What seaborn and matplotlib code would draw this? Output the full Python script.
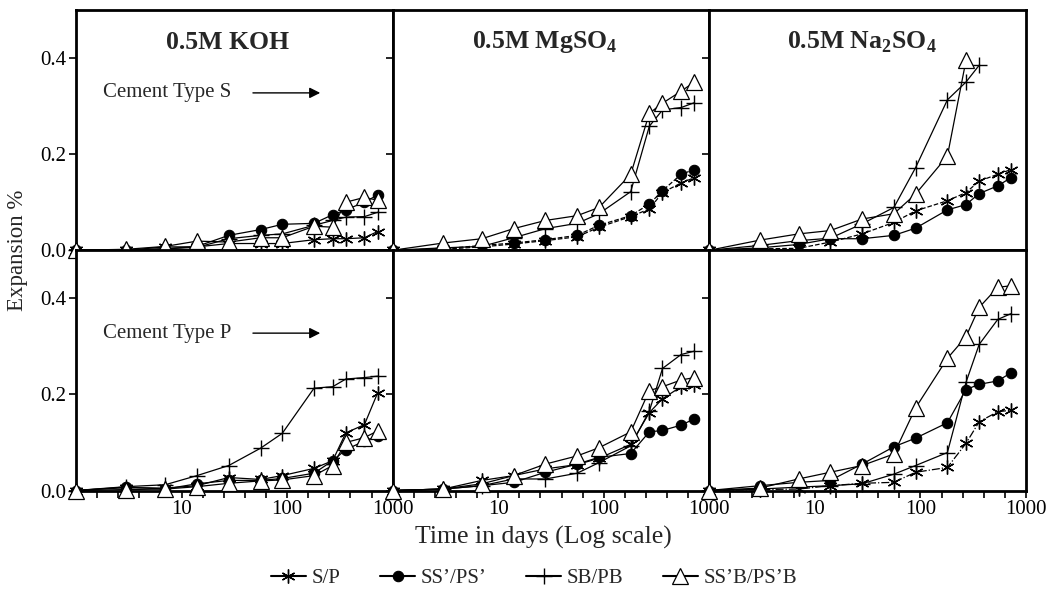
import numpy as np
import pandas as pd
import matplotlib
matplotlib.use("Agg")
import matplotlib.pyplot as plt
import seaborn as sns
from matplotlib.ticker import FixedLocator, FixedFormatter, NullLocator
from matplotlib.lines import Line2D

# ---------------- data ----------------
days = [1, 3, 7, 14, 28, 56, 90, 180, 270, 360, 540, 720]
series_names = ["S/P", "SS\u2019/PS\u2019", "SB/PB", "SS\u2019B/PS\u2019B"]
panel_titles = ["0.5M KOH", r"0.5M MgSO$_\mathbf{4}$", r"0.5M Na$_\mathbf{2}$SO$_\mathbf{4}$"]
row_labels = ["Cement Type S", "Cement Type P"]
x_tick_labels = ["10", "100", "1000"]
y_tick_labels = ["0.0", "0.2", "0.4"]

# Cement type S (top row)
koh_s_sp = [0, 0, 0.007, 0.007, 0.014, 0.014, 0.014, 0.022, 0.024, 0.024, 0.026, 0.039]
koh_s_ss = [0, 0, 0.003, 0.008, 0.031, 0.043, 0.054, 0.056, 0.074, 0.084, 0.100, 0.115]
koh_s_sb = [0, 0, 0.003, 0.006, 0.024, 0.031, 0.034, 0.052, 0.062, 0.069, 0.070, 0.079]
koh_s_ssb = [0, 0.002, 0.008, 0.019, 0.017, 0.026, 0.026, 0.050, 0.048, 0.100, 0.110, 0.104]

mg_s_sp = [0, 0.002, 0.007, 0.013, 0.020, 0.028, 0.048, 0.070, 0.086, 0.120, 0.140, 0.151]
mg_s_ss = [0, 0.003, 0.010, 0.015, 0.022, 0.031, 0.052, 0.072, 0.096, 0.124, 0.158, 0.168]
mg_s_sb = [0, 0.005, 0.008, 0.026, 0.045, 0.056, 0.076, 0.122, 0.258, 0.292, 0.297, 0.307]
mg_s_ssb = [0, 0.015, 0.024, 0.045, 0.062, 0.072, 0.089, 0.158, 0.285, 0.306, 0.331, 0.350]

na_s_sp = [0, 0.003, 0.004, 0.017, 0.034, 0.058, 0.082, 0.103, 0.120, 0.144, 0.158, 0.168]
na_s_ss = [0, 0.005, 0.012, 0.024, 0.024, 0.031, 0.046, 0.084, 0.095, 0.118, 0.134, 0.151]
na_s_sb = [0, 0.010, 0.020, 0.025, 0.055, 0.089, 0.172, 0.313, 0.350, 0.385]
na_s_ssb = [0, 0.021, 0.034, 0.041, 0.065, 0.076, 0.117, 0.196, 0.395]

# Cement type P (bottom row)
koh_p_sp = [0, 0.006, 0.005, 0.010, 0.027, 0.023, 0.031, 0.046, 0.062, 0.120, 0.137, 0.203]
koh_p_ss = [0, 0.007, 0.003, 0.014, 0.021, 0.021, 0.025, 0.036, 0.062, 0.085, 0.103, 0.113]
koh_p_sb = [0, 0.008, 0.012, 0.031, 0.052, 0.088, 0.119, 0.213, 0.216, 0.232, 0.235, 0.238]
koh_p_ssb = [0, 0.002, 0.003, 0.008, 0.015, 0.020, 0.022, 0.031, 0.052, 0.100, 0.110, 0.124]

mg_p_sp = [0, 0.003, 0.021, 0.031, 0.045, 0.054, 0.067, 0.096, 0.162, 0.191, 0.216, 0.220]
mg_p_ss = [0, 0.003, 0.010, 0.017, 0.038, 0.055, 0.069, 0.077, 0.122, 0.125, 0.136, 0.149]
mg_p_sb = [0, 0.003, 0.010, 0.024, 0.024, 0.036, 0.058, 0.093, 0.165, 0.254, 0.283, 0.290]
mg_p_ssb = [0, 0.003, 0.014, 0.031, 0.055, 0.072, 0.089, 0.122, 0.208, 0.216, 0.230, 0.235]

na_p_sp = [0, 0.002, 0.003, 0.010, 0.015, 0.017, 0.038, 0.048, 0.098, 0.143, 0.164, 0.167]
na_p_ss = [0, 0.010, 0.017, 0.021, 0.055, 0.091, 0.109, 0.141, 0.210, 0.221, 0.228, 0.245]
na_p_sb = [0, 0.003, 0.007, 0.010, 0.014, 0.034, 0.052, 0.079, 0.225, 0.304, 0.356, 0.368]
na_p_ssb = [0, 0.005, 0.024, 0.038, 0.052, 0.076, 0.172, 0.275, 0.320, 0.381, 0.423, 0.426]

panels = [
    [[koh_s_sp, koh_s_ss, koh_s_sb, koh_s_ssb],
     [mg_s_sp, mg_s_ss, mg_s_sb, mg_s_ssb],
     [na_s_sp, na_s_ss, na_s_sb, na_s_ssb]],
    [[koh_p_sp, koh_p_ss, koh_p_sb, koh_p_ssb],
     [mg_p_sp, mg_p_ss, mg_p_sb, mg_p_ssb],
     [na_p_sp, na_p_ss, na_p_sb, na_p_ssb]],
]

# ---------------- styles ----------------
sns.set_theme(style="white")
plt.rcParams["font.family"] = ["Liberation Serif", "DejaVu Serif"]
plt.rcParams["mathtext.fontset"] = "custom"
plt.rcParams["mathtext.rm"] = "Liberation Serif"
plt.rcParams["mathtext.bf"] = "Liberation Serif:bold"
plt.rcParams["axes.linewidth"] = 2.0

FS = 15
marker_styles = [
    dict(marker=(6, 2, 0), markersize=10, markeredgewidth=1.0,
         markerfacecolor="black", markeredgecolor="black"),
    dict(marker="o", markersize=7.5, markeredgewidth=0.8,
         markerfacecolor="black", markeredgecolor="black"),
    dict(marker="+", markersize=12, markeredgewidth=1.0,
         markerfacecolor="black", markeredgecolor="black"),
    dict(marker="^", markersize=12, markeredgewidth=0.9,
         markerfacecolor="white", markeredgecolor="black"),
]
line_styles = {
    (0, 1, 0): "--", (0, 1, 1): "--",
    (0, 2, 0): "--",
    (1, 2, 0): "-.",
}

fig, axes = plt.subplots(2, 3, figsize=(10.51, 5.95), dpi=100, sharey=True)
fig.subplots_adjust(left=76 / 1051, right=1026 / 1051, top=1 - 10 / 595,
                    bottom=1 - 490.5 / 595, wspace=0, hspace=0)

draw_order = [3, 2, 0, 1]
for r in range(2):
    for c in range(3):
        ax = axes[r, c]
        for s in draw_order:
            vals = panels[r][c][s]
            ls = line_styles.get((r, c, s), "-")
            sns.lineplot(x=days[:len(vals)], y=vals, ax=ax, color="black",
                         linewidth=0.9, linestyle=ls, clip_on=False,
                         zorder=3 + s, **marker_styles[s])
        ax.set_xscale("log")
        ax.set_xlim(1, 1000)
        ax.set_ylim(0, 0.5)
        ticks = [10 ** (k * 0.2) for k in range(16)]
        ax.xaxis.set_major_locator(FixedLocator([10, 100, 1000]))
        ax.xaxis.set_minor_locator(FixedLocator(ticks))
        ax.xaxis.set_minor_formatter(FixedFormatter([""] * len(ticks)))
        if r == 1:
            ax.xaxis.set_major_formatter(FixedFormatter(x_tick_labels))
        else:
            ax.xaxis.set_major_formatter(FixedFormatter(["", "", ""]))
        ax.yaxis.set_major_locator(FixedLocator([0.0, 0.2, 0.4]))
        ax.yaxis.set_major_formatter(FixedFormatter(y_tick_labels))
        ax.tick_params(axis="both", which="both", direction="out", color="black",
                       labelsize=FS, labelcolor="black", pad=2)
        ax.tick_params(axis="x", which="both", length=5, width=1.2, bottom=True)
        ax.tick_params(axis="y", which="major", length=5, width=1.2, left=True)
        ax.set_xlabel("")
        ax.set_ylabel("")
        for sp in ax.spines.values():
            sp.set_color("black")
            sp.set_linewidth(2.0)
        if ax.get_legend() is not None:
            ax.get_legend().remove()
        if r == 0:
            ax.text(0.48, 0.865, panel_titles[c], transform=ax.transAxes,
                    ha="center", va="center", fontsize=18.5, fontweight="bold")
        if c == 0:
            ax.text(0.085, 0.655, row_labels[r], transform=ax.transAxes,
                    ha="left", va="center", fontsize=FS)
            ax.annotate("", xy=(0.78, 0.655), xytext=(0.55, 0.655),
                        xycoords="axes fraction",
                        arrowprops=dict(arrowstyle="-|>", color="black",
                                        lw=1.0, mutation_scale=16))

fig.text(0.517, 1 - 537 / 595, "Time in days (Log scale)", ha="center",
         va="center", fontsize=18.5)
fig.text(18 / 1051, 1 - 250 / 595, "Expansion %", ha="center", va="center",
         rotation=90, fontsize=16.5)

handles = [Line2D([0], [0], color="black", linewidth=1.5, **marker_styles[s])
           for s in range(4)]
fig.legend(handles, series_names, loc="center", ncol=4, frameon=False,
           bbox_to_anchor=(0.508, 1 - 578 / 595), fontsize=FS,
           handlelength=1.7, columnspacing=1.9, handletextpad=0.25)

fig.savefig("out.png", dpi=100)
